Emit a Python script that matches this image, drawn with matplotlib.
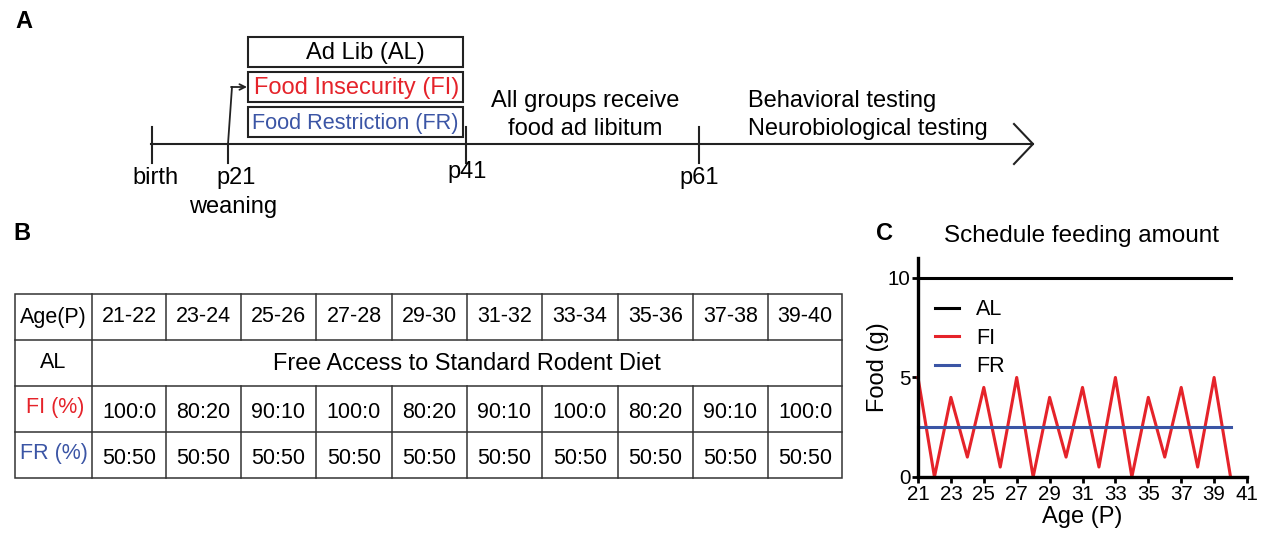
import matplotlib.pyplot as plt
from matplotlib.patches import Rectangle

plt.rcParams['font.family'] = ['Liberation Sans', 'DejaVu Sans']

RED = '#e5232a'
BLUE = '#3b55a5'

# feeding schedule table
age_bins = ['21-22', '23-24', '25-26', '27-28', '29-30',
            '31-32', '33-34', '35-36', '37-38', '39-40']
al_text = 'Free Access to Standard Rodent Diet'
fi_ratio = ['100:0', '80:20', '90:10', '100:0', '80:20',
            '90:10', '100:0', '80:20', '90:10', '100:0']
fr_ratio = ['50:50'] * 10

# daily food amounts (g)
days = list(range(21, 41))
al_food = [10] * 20
fi_food = [5, 0, 4, 1, 4.5, 0.5, 5, 0, 4, 1,
           4.5, 0.5, 5, 0, 4, 1, 4.5, 0.5, 5, 0]
fr_food = [2.5] * 20

# timeline milestones
milestones = ['birth', 'p21', 'p41', 'p61']
groups = ['Ad Lib (AL)', 'Food Insecurity (FI)', 'Food Restriction (FR)']
group_colors = ['black', RED, BLUE]
group_sizes = [17, 17, 15.6]

fig = plt.figure(figsize=(12.65, 5.35), dpi=100)
ax0 = fig.add_axes([0, 0, 1, 1])
ax0.set_xlim(0, 1265)
ax0.set_ylim(535, 0)
ax0.axis('off')

FS = 17
lw = 1.5
ink = '#222222'

# ---- panel A: timeline ----
ax0.text(15, 21, 'A', fontsize=17, fontweight='bold', va='center')
ax0.plot([151, 1033], [144, 144], color=ink, lw=lw)
ax0.plot([1014, 1033, 1014], [124, 144, 164], color=ink, lw=lw)
tick_x = [152, 228, 466, 699]
tick_top = [127, 144, 127, 127]
tick_bot = [163, 163, 163, 163]
for x, t, b in zip(tick_x, tick_top, tick_bot):
    ax0.plot([x, x], [t, b], color=ink, lw=lw)
ax0.text(155, 178, milestones[0], fontsize=FS, ha='center', va='center')
ax0.text(236, 178, milestones[1], fontsize=FS, ha='center', va='center')
ax0.text(233, 207, 'weaning', fontsize=FS, ha='center', va='center')
ax0.text(467, 172, milestones[2], fontsize=FS, ha='center', va='center')
ax0.text(699, 178, milestones[3], fontsize=FS, ha='center', va='center')

# bent arrow from weaning into the group boxes
ax0.plot([228, 232], [144, 87], color=ink, lw=1.3)
ax0.annotate('', xy=(247, 87), xytext=(231, 87),
             arrowprops=dict(arrowstyle='->', color=ink, lw=1.3,
                             shrinkA=0, shrinkB=0))

box_tops = [37, 72, 107]
text_x = [365, 357, 355]
for name, col, top, tx, sz in zip(groups, group_colors, box_tops,
                                  text_x, group_sizes):
    ax0.add_patch(Rectangle((248, top), 215, 30, fill=False,
                            edgecolor=ink, lw=lw))
    ax0.text(tx, top + 16, name, fontsize=sz, color=col,
             ha='center', va='center')

ax0.text(585, 101, 'All groups receive', fontsize=FS, ha='center', va='center')
ax0.text(585, 129, 'food ad libitum', fontsize=FS, ha='center', va='center')
ax0.text(748, 101, 'Behavioral testing', fontsize=FS, ha='left', va='center')
ax0.text(748, 129, 'Neurobiological testing', fontsize=FS, ha='left', va='center')

# ---- panel B: table ----
ax0.text(13, 234, 'B', fontsize=17, fontweight='bold', va='center')
col_x = [15, 92, 166, 241, 316, 392, 467, 542, 618, 693, 768, 842]
row_y = [294, 340, 386, 432, 478]
tlw = 1.1
tc = '#333333'
ax0.add_patch(Rectangle((col_x[0], row_y[0]), col_x[-1] - col_x[0],
                        row_y[-1] - row_y[0], fill=False, edgecolor=tc, lw=tlw))
for y in row_y[1:-1]:
    ax0.plot([col_x[0], col_x[-1]], [y, y], color=tc, lw=tlw)
for i, x in enumerate(col_x[1:-1]):
    if i == 0:
        ax0.plot([x, x], [row_y[0], row_y[-1]], color=tc, lw=tlw)
    else:
        ax0.plot([x, x], [row_y[0], row_y[1]], color=tc, lw=tlw)
        ax0.plot([x, x], [row_y[2], row_y[-1]], color=tc, lw=tlw)


def cy(r):
    return (row_y[r] + row_y[r + 1]) / 2


TS = 15.5
ax0.text(53, cy(0), 'Age(P)', fontsize=TS, ha='center', va='center')
ax0.text(53, cy(1), 'AL', fontsize=TS, ha='center', va='center')
ax0.text(55, cy(2) - 1, 'FI (%)', fontsize=TS, ha='center', va='center', color=RED)
ax0.text(54, cy(3) - 1, 'FR (%)', fontsize=TS, ha='center', va='center', color=BLUE)
for j in range(len(age_bins)):
    xc = (col_x[j + 1] + col_x[j + 2]) / 2
    ax0.text(xc, cy(0), age_bins[j], fontsize=TS, ha='center', va='center')
    ax0.text(xc, cy(2) + 4, fi_ratio[j], fontsize=TS, ha='center', va='center')
    ax0.text(xc, cy(3) + 4, fr_ratio[j], fontsize=TS, ha='center', va='center')
ax0.text((col_x[1] + col_x[-1]) / 2, cy(1), al_text, fontsize=16.9,
         ha='center', va='center')

# ---- panel C: feeding amount ----
ax0.text(876, 234, 'C', fontsize=17, fontweight='bold', va='center')
ax0.text(1082, 236, 'Schedule feeding amount', fontsize=17.5,
         ha='center', va='center')

ax = fig.add_axes([918 / 1265, (535 - 477) / 535,
                   (1247 - 918) / 1265, (477 - 258) / 535])
ax.plot(days, al_food, color='black', lw=2.2, label='AL', clip_on=False)
ax.plot(days, fi_food, color=RED, lw=2.2, label='FI', clip_on=False)
ax.plot(days, fr_food, color=BLUE, lw=2.2, label='FR', clip_on=False)
ax.set_xlim(21, 41)
ax.set_ylim(0, 11)
ax.set_xticks(range(21, 42, 2))
ax.set_yticks([0, 5, 10])
for s in ['top', 'right']:
    ax.spines[s].set_visible(False)
for s in ['left', 'bottom']:
    ax.spines[s].set_linewidth(2.4)
ax.tick_params(width=2, length=4, labelsize=14.8, pad=1.5)
ax.set_xlabel('Age (P)', fontsize=17, labelpad=2)
ax.set_ylabel('Food (g)', fontsize=17, labelpad=-1)
ax.legend(loc='upper left', bbox_to_anchor=(0.0, 0.89), frameon=False,
          fontsize=15.5, handlelength=1.1, handletextpad=0.8,
          labelspacing=0.35, borderaxespad=0.4)

fig.savefig('out.png', dpi=100)
